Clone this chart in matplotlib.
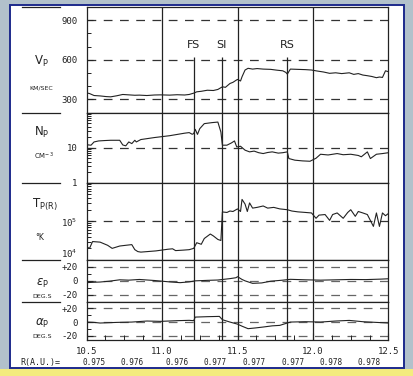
import numpy as np
import matplotlib.pyplot as plt
from matplotlib.patches import Rectangle
from matplotlib.lines import Line2D
from matplotlib.ticker import LogLocator, NullFormatter, MultipleLocator

# solar wind speed (km/s)
vp_x = [10.50, 10.52, 10.55, 10.59, 10.63, 10.66, 10.70, 10.74, 10.78, 10.82,
        10.85, 10.90, 10.95, 10.99, 11.05, 11.10, 11.15, 11.18, 11.21, 11.23,
        11.26, 11.30, 11.34, 11.37, 11.40, 11.42, 11.45, 11.47, 11.49, 11.50,
        11.52, 11.53, 11.55, 11.57, 11.60, 11.63, 11.67, 11.72, 11.76, 11.80,
        11.82, 11.83, 11.85, 11.90, 11.95, 11.99, 12.03, 12.07, 12.11, 12.15,
        12.19, 12.24, 12.27, 12.30, 12.33, 12.36, 12.39, 12.42, 12.44, 12.46,
        12.48, 12.50]
vp = [350, 345, 330, 327, 322, 320, 328, 338, 335, 332,
      333, 330, 334, 335, 333, 336, 334, 338, 348, 358,
      362, 370, 368, 376, 396, 392, 421, 430, 445, 452,
      440, 472, 523, 536, 530, 534, 530, 528, 522, 517,
      505, 492, 530, 528, 526, 523, 515, 508, 498, 502,
      496, 502, 490, 496, 485, 480, 474, 465, 470, 467,
      517, 510]

# proton density (cm^-3)
np_x = [10.50, 10.51, 10.53, 10.55, 10.58, 10.62, 10.66, 10.72, 10.74, 10.76,
        10.78, 10.80, 10.82, 10.83, 10.86, 10.95, 11.05, 11.15, 11.18, 11.20,
        11.21, 11.22, 11.235, 11.25, 11.28, 11.33, 11.37, 11.39, 11.40, 11.43,
        11.46, 11.48, 11.495, 11.52, 11.55, 11.58, 11.61, 11.64, 11.67, 11.70,
        11.73, 11.77, 11.80, 11.83, 11.84, 11.88, 11.93, 11.98, 12.02, 12.05,
        12.10, 12.16, 12.20, 12.25, 12.30, 12.32, 12.36, 12.38, 12.42, 12.46,
        12.50]
n_p = [14.0, 12.0, 11.8, 14.6, 15.6, 16.0, 16.3, 16.3, 12.0, 11.3,
       14.6, 13.1, 16.3, 14.6, 17.1, 19.5, 22.0, 26.0, 27.0, 24.2,
       25.3, 33.5, 24.0, 35.0, 48.7, 52.0, 54.0, 28.0, 11.8, 11.8,
       13.7, 15.6, 10.5, 11.0, 8.5, 7.6, 8.0, 7.2, 6.8, 7.3,
       7.6, 7.0, 7.2, 7.6, 4.9, 4.4, 4.2, 4.1, 5.0, 6.5,
       6.2, 6.8, 6.3, 6.5, 6.0, 5.5, 7.6, 4.9, 6.5, 6.8,
       7.2]

# proton temperature (K)
tp_x = [10.50, 10.52, 10.54, 10.59, 10.64, 10.67, 10.72, 10.76, 10.80, 10.82,
        10.84, 10.86, 10.96, 11.04, 11.07, 11.09, 11.14, 11.18, 11.21, 11.23,
        11.26, 11.28, 11.32, 11.34, 11.37, 11.39, 11.40, 11.43, 11.45, 11.47,
        11.50, 11.52, 11.53, 11.55, 11.565, 11.58, 11.60, 11.63, 11.67, 11.70,
        11.74, 11.78, 11.83, 11.86, 11.90, 11.95, 11.99, 12.02, 12.04, 12.08,
        12.11, 12.13, 12.16, 12.20, 12.23, 12.25, 12.28, 12.30, 12.33, 12.36,
        12.40, 12.42, 12.44, 12.46, 12.48, 12.50]
t_p = [2.2e4, 2.0e4, 3.0e4, 2.9e4, 2.4e4, 2.0e4, 2.3e4, 2.4e4, 2.5e4, 1.85e4,
       1.65e4, 1.6e4, 1.72e4, 1.9e4, 1.95e4, 1.75e4, 1.8e4, 1.85e4, 2.0e4, 2.8e4,
       2.55e4, 3.6e4, 4.7e4, 4.2e4, 3.4e4, 3.2e4, 1.75e5, 1.7e5, 1.85e5, 1.8e5,
       2.1e5, 1.8e5, 3.7e5, 2.8e5, 1.8e5, 3.0e5, 2.2e5, 2.3e5, 2.5e5, 2.2e5,
       2.3e5, 2.1e5, 2.0e5, 1.85e5, 1.76e5, 1.7e5, 1.65e5, 1.2e5, 1.45e5, 1.5e5,
       1.06e5, 1.5e5, 1.65e5, 1.2e5, 1.7e5, 2.0e5, 1.35e5, 1.8e5, 1.65e5, 1.5e5,
       7.4e4, 1.65e5, 7.4e4, 1.65e5, 1.4e5, 1.6e5]

# flow angles (deg)
ep_x = [10.50, 10.55, 10.59, 10.65, 10.72, 10.78, 10.85, 10.95, 11.05, 11.12,
        11.18, 11.22, 11.30, 11.37, 11.45, 11.49, 11.50, 11.53, 11.55, 11.60,
        11.66, 11.72, 11.80, 11.85, 11.95, 12.05, 12.15, 12.25, 12.35, 12.45,
        12.50]
e_p = [-2.6, -2.0, -1.7, -0.5, 1.5, 1.0, 2.0, 0.5, -1.5, -2.6,
       -1.5, 0.0, 0.7, 1.2, 3.2, 4.5, 6.0, 2.0, 0.0, -3.6,
       -3.0, -0.5, 1.0, 2.2, 1.5, 1.0, 1.5, 2.0, 1.8, 2.5,
       3.0]
ap_x = [10.50, 10.55, 10.59, 10.70, 10.80, 10.90, 10.99, 11.10, 11.18, 11.21,
        11.22, 11.30, 11.38, 11.40, 11.45, 11.50, 11.53, 11.57, 11.62, 11.67,
        11.73, 11.78, 11.85, 11.95, 12.05, 12.15, 12.24, 12.33, 12.42, 12.50]
a_p = [0.0, -0.5, -1.4, -0.5, 0.0, 1.5, 1.0, 2.0, 2.5, 2.0,
       7.2, 7.8, 8.2, 3.4, 0.0, -3.0, -6.0, -9.6, -8.5, -7.2,
       -5.5, -4.8, 0.0, 0.5, 0.0, 1.5, 2.4, 0.5, -0.5, -1.4]

# events and axis labels
event_x = [11.21, 11.395, 11.83]
event_names = ['FS', 'SI', 'RS']
grid_x = [11.0, 11.5, 12.0]
x_ticks = [10.5, 11.0, 11.5, 12.0, 12.5]
x_labels = ['10.5', '11.0', '11.5', '12.0', '12.5']
r_x = [10.55, 10.80, 11.10, 11.35, 11.61, 11.87, 12.12, 12.37]
r_labels = ['0.975', '0.976', '0.976', '0.977', '0.977', '0.977', '0.978', '0.978']

W, H = 414, 376
fig = plt.figure(figsize=(W / 100, H / 100), dpi=100)
fig.patch.set_facecolor('#b2c1cb')

# white page with blue frame, yellow strip below (behind the axes)
fig.add_artist(Rectangle((0, 0), 1, 7 / H, transform=fig.transFigure,
                         facecolor='#f3ec7e', edgecolor='none', zorder=-10))
fig.add_artist(Rectangle((10 / W, 1 - 368 / H), 394 / W, 363 / H,
                         transform=fig.transFigure, facecolor='white',
                         edgecolor='#1d2a8c', lw=1.4, zorder=-10))

L, R = 86.5, 388.5
edges = [7, 112.7, 182.7, 260, 301.7, 340]
ink = '#222222'
mono = 'DejaVu Sans Mono'


def make_axes(top, bottom):
    ax = fig.add_axes([L / W, 1 - bottom / H, (R - L) / W, (bottom - top) / H])
    ax.set_xlim(10.5, 12.5)
    for s in ax.spines.values():
        s.set_color(ink)
        s.set_linewidth(0.9)
    ax.tick_params(axis='y', which='both', direction='in', left=True, right=False,
                   colors=ink, labelsize=6.5, pad=6.5)
    ax.tick_params(axis='y', which='major', length=4, width=0.8)
    ax.tick_params(axis='y', which='minor', length=3, width=0.7)
    ax.tick_params(axis='x', which='both', bottom=False, labelbottom=False)
    return ax


axes = [make_axes(edges[i], edges[i + 1]) for i in range(5)]
ax_v, ax_n, ax_t, ax_e, ax_a = axes

# Vp
ax_v.set_ylim(200, 1000)
ax_v.set_yticks([300, 600, 900], ['300', '600', '900'], fontfamily=mono)
ax_v.yaxis.set_minor_locator(MultipleLocator(100))
ax_v.plot(vp_x, vp, color=ink, lw=0.8)

# Np
ax_n.set_yscale('log')
ax_n.set_ylim(1, 100)
ax_n.set_yticks([1, 10], ['1', '10'], fontfamily=mono)
ax_n.yaxis.set_minor_locator(LogLocator(base=10, subs=np.arange(2, 10)))
ax_n.yaxis.set_minor_formatter(NullFormatter())
ax_n.plot(np_x, n_p, color=ink, lw=0.8)

# Tp
ax_t.set_yscale('log')
ax_t.set_ylim(1e4, 1e6)
ax_t.set_yticks([1e4, 1e5], [r'$\mathregular{10^4}$', r'$\mathregular{10^5}$'],
                fontfamily=mono)
ax_t.yaxis.set_minor_locator(LogLocator(base=10, subs=np.arange(2, 10)))
ax_t.yaxis.set_minor_formatter(NullFormatter())
ax_t.get_yticklabels()[0].set_verticalalignment('bottom')
ax_t.plot(tp_x, t_p, color=ink, lw=0.8)

# flow angles
ax_e.set_ylim(-30, 30)
ax_a.set_ylim(-26, 29.5)
for ax, xs, ys in [(ax_e, ep_x, e_p), (ax_a, ap_x, a_p)]:
    ax.set_yticks([-20, 0, 20], ['-20', '0', '+20'], fontfamily=mono)
    ax.yaxis.set_minor_locator(MultipleLocator(10))
    ax.plot(xs, ys, color=ink, lw=0.8)

# dashed reference levels
for ax, levels, c in [(ax_v, [300, 600, 900], '#333333'), (ax_n, [10], '#333333'),
                      (ax_t, [1e5], '#333333'), (ax_e, [-20, 0, 20], '#666666'),
                      (ax_a, [-20, 0, 20], '#666666')]:
    for lv in levels:
        ax.axhline(lv, color=c, lw=0.9, dashes=(7, 6), zorder=1)

# vertical grid and event lines
for ax in axes:
    for gx in grid_x:
        ax.axvline(gx, color=ink, lw=0.9, zorder=1)
    if ax is not ax_v:
        for ex in event_x:
            ax.axvline(ex, color=ink, lw=0.9, zorder=1)
ax_v.vlines(event_x, 200, 625, color=ink, lw=0.9, zorder=1)
for ex, name in zip(event_x, event_names):
    ax_v.text(ex, 712, name, ha='center', va='center', fontsize=8, color=ink)

# bottom axis
ax_a.tick_params(axis='x', which='both', bottom=True, labelbottom=True,
                 direction='in', colors=ink, labelsize=6.5, pad=5)
ax_a.tick_params(axis='x', which='major', length=5, width=0.8)
ax_a.tick_params(axis='x', which='minor', length=3.5, width=0.7)
ax_a.set_xticks(x_ticks, x_labels, fontfamily=mono)
ax_a.xaxis.set_minor_locator(MultipleLocator(0.125))
for rx, rl in zip(r_x, r_labels):
    ax_a.text(rx, -0.58, rl, transform=ax_a.get_xaxis_transform(),
              ha='center', va='center', fontsize=5.5, fontfamily=mono, color=ink)


def ftext(x, y, s, **kw):
    fig.text(x / W, 1 - y / H, s, ha='center', va='center', color=ink, **kw)


# left-hand labels
ftext(41, 61, r'$\mathregular{V_P}$', fontsize=8.5)
ftext(41, 88, 'KM/SEC', fontsize=4.5)
ftext(42, 132, r'$\mathregular{N_P}$', fontsize=8.5)
ftext(44, 156, r'$\mathregular{CM^{-3}}$', fontsize=5)
ftext(45, 205, r'$\mathregular{T_{P(R)}}$', fontsize=8.5)
ftext(40, 238, '°K', fontsize=5.5)
ftext(42, 283, r'$\varepsilon_\mathregular{P}$', fontsize=8.5)
ftext(42, 296, 'DEG.S', fontsize=4.5)
ftext(42, 323, r'$\alpha_\mathregular{P}$', fontsize=8.5)
ftext(42, 336, 'DEG.S', fontsize=4.5)
ftext(40, 362, 'R(A.U.)=', fontsize=6, fontfamily=mono)

# separator stubs to the left of the panels
for y in edges[:5]:
    fig.add_artist(Line2D([22 / W, 60 / W], [1 - y / H, 1 - y / H],
                          transform=fig.transFigure, color=ink, lw=0.9))

fig.savefig('out.png', dpi=100)
